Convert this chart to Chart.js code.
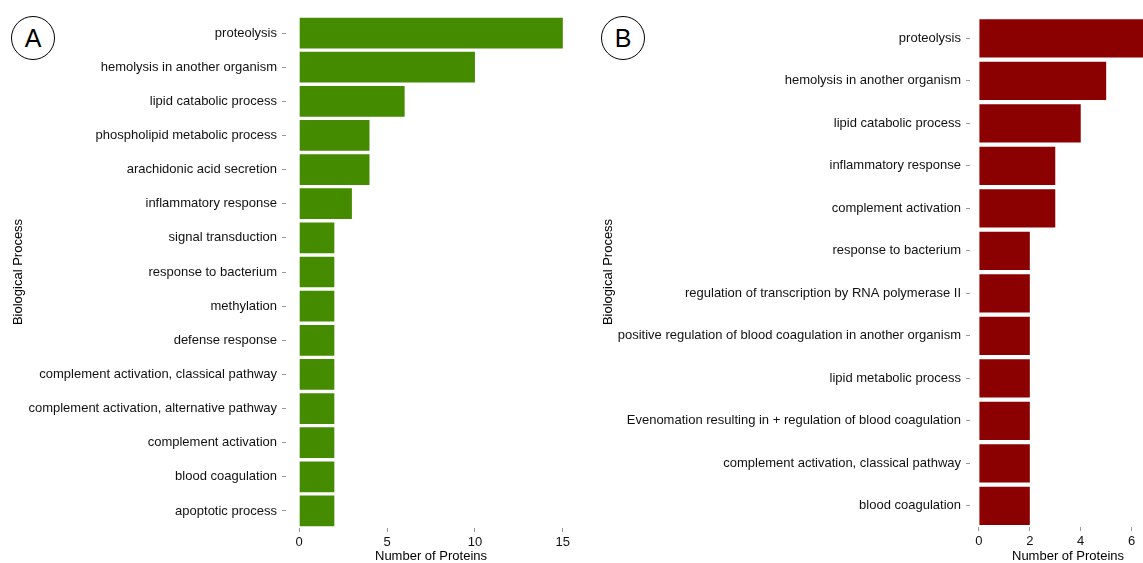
<!DOCTYPE html>
<html>
<head>
<meta charset="utf-8">
<script src="https://cdn.jsdelivr.net/npm/chart.js@4"></script>
<style>
  html, body { margin: 0; padding: 0; background: #fff; overflow: hidden; }
  body { width: 1143px; height: 563px; position: relative; }
  .panel { position: absolute; top: 0; width: 590px; height: 563px; }
  .tag {
    position: absolute; top: 16px; width: 42px; height: 42px; border: 1px solid #000;
    border-radius: 50%; font: 25px "Liberation Sans", Arial, sans-serif;
    text-align: center; line-height: 42px; color: #000; background: #fff; z-index: 2;
  }
</style>
</head>
<body>
<div class="panel" style="left:0"><canvas id="chartA" width="590" height="563"></canvas></div>
<div class="panel" style="left:590px"><canvas id="chartB" width="590" height="563"></canvas></div>
<div class="tag" style="left:11px">A</div>
<div class="tag" style="left:601px">B</div>
<script>
// Panel A: biological process counts
const processesA = [
  'proteolysis', 'hemolysis in another organism', 'lipid catabolic process',
  'phospholipid metabolic process', 'arachidonic acid secretion', 'inflammatory response',
  'signal transduction', 'response to bacterium', 'methylation', 'defense response',
  'complement activation, classical pathway', 'complement activation, alternative pathway',
  'complement activation', 'blood coagulation', 'apoptotic process'
];
const countsA = [15, 10, 6, 4, 4, 3, 2, 2, 2, 2, 2, 2, 2, 2, 2];
const ticksA = [0, 5, 10, 15];

// Panel B
const processesB = [
  'proteolysis', 'hemolysis in another organism', 'lipid catabolic process',
  'inflammatory response', 'complement activation', 'response to bacterium',
  'regulation of transcription by RNA polymerase II',
  'positive regulation of blood coagulation in another organism',
  'lipid metabolic process', 'Evenomation resulting in + regulation of blood coagulation',
  'complement activation, classical pathway', 'blood coagulation'
];
const countsB = [7, 5, 4, 3, 3, 2, 2, 2, 2, 2, 2, 2];
const ticksB = [0, 2, 4, 6];

const FONT = '"Liberation Sans", Arial, sans-serif';

function makeChart(id, labels, values, color, xTicks, xMin, xMax, opts) {
  return new Chart(document.getElementById(id), {
    type: 'bar',
    data: {
      labels: labels,
      datasets: [{
        data: values,
        backgroundColor: color,
        borderWidth: 0,
        barPercentage: 0.9,
        categoryPercentage: 1.0
      }]
    },
    options: {
      indexAxis: 'y',
      responsive: false,
      animation: false,
      layout: { padding: { top: opts.top, right: opts.right, left: 0, bottom: 0 } },
      plugins: { legend: { display: false }, tooltip: { enabled: false } },
      scales: {
        x: {
          type: 'linear',
          min: xMin,
          max: xMax,
          // ggplot-style padded range, ticks only at round values
          afterBuildTicks: (scale) => { scale.ticks = xTicks.map(v => ({ value: v })); },
          afterFit: (scale) => { scale.height = 563 - opts.bottom; },
          border: { display: false },
          grid: { drawOnChartArea: false, drawTicks: true, tickLength: 4, color: '#9a9a9a' },
          ticks: { color: '#111', font: { family: FONT, size: 13 }, padding: 3 },
          title: {
            display: true, text: 'Number of Proteins', color: '#000',
            font: { family: FONT, size: 13, lineHeight: 1 }, padding: { top: 0, bottom: 0 }
          }
        },
        y: {
          afterFit: (scale) => { scale.width = opts.left; },
          border: { display: false },
          grid: { drawOnChartArea: false, drawTicks: true, tickLength: 4, color: '#9a9a9a', offset: false },
          ticks: { color: '#111', font: { family: FONT, size: 13 }, padding: 5 },
          title: {
            display: true, text: 'Biological Process', color: '#000',
            font: { family: FONT, size: 13 }, padding: { top: 11, bottom: 0 }
          }
        }
      }
    }
  });
}

makeChart('chartA', processesA, countsA, '#458B00', ticksA, -0.75, 15.75,
  { top: 16, bottom: 528, left: 286, right: 14 });
makeChart('chartB', processesB, countsB, '#8B0000', ticksB, -0.35, 7.35,
  { top: 17, bottom: 527, left: 380, right: 14 });
</script>
</body>
</html>
